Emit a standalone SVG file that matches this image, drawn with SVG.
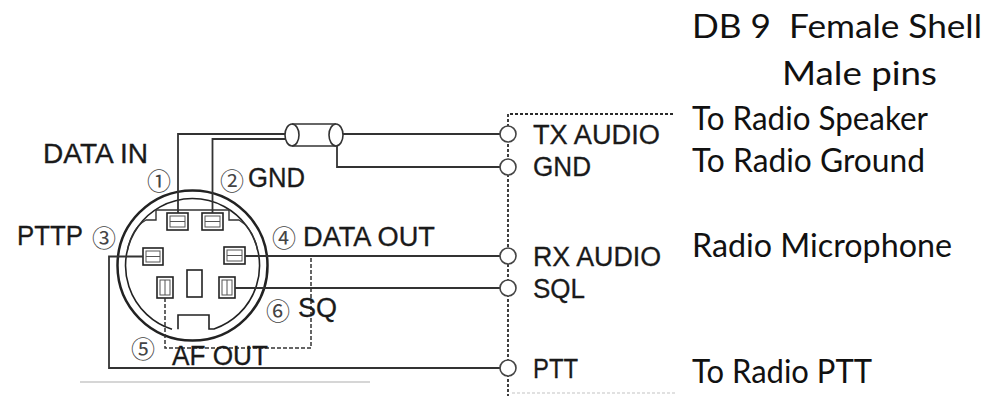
<svg xmlns="http://www.w3.org/2000/svg" width="991" height="396" viewBox="0 0 991 396">
<style>
.lbl{font-family:"Liberation Sans",Arial,sans-serif;font-size:27px;fill:#1a1a1a;stroke:#1a1a1a;stroke-width:0.3}
.num{font-family:"Noto Sans CJK JP","DejaVu Sans",sans-serif;font-size:24px;fill:#444;text-anchor:middle;dominant-baseline:central}
.note{font-family:Lato,"Open Sans",sans-serif;font-size:33px;fill:#111}
.w{fill:none;stroke:#333;stroke-width:1.8}
.dash{fill:none;stroke:#333;stroke-width:1.5;stroke-dasharray:4 2}
.term{fill:#fff;stroke:#444;stroke-width:1.6}
.pin{fill:#fff;stroke:#222;stroke-width:1.6}
.pinin{fill:none;stroke:#555;stroke-width:1}
</style>
<rect width="991" height="396" fill="#fff"/>

<g id="din-connector">
  <circle cx="192.5" cy="265.5" r="75" fill="none" stroke="#222" stroke-width="2.5"/>
  <path d="M172 329.3 A67 67 0 1 1 214 329 L209 329 L209 315 L178 315 L178 329.3" fill="none" stroke="#222" stroke-width="1.6"/>
  <path d="M127.5 250 Q132 228 146 220 H156 V210 H229 V220 H239 Q253 228 257.5 250" fill="none" stroke="#333" stroke-width="1.4"/>
  <g id="pin1"><rect class="pin" x="167" y="213" width="21" height="17"/><rect class="pinin" x="170" y="216" width="15" height="11"/><line class="pinin" x1="170" y1="221.5" x2="185" y2="221.5"/></g>
  <g id="pin2"><rect class="pin" x="202" y="213" width="21" height="17"/><rect class="pinin" x="205" y="216" width="15" height="11"/><line class="pinin" x1="205" y1="221.5" x2="220" y2="221.5"/></g>
  <g id="pin3"><rect class="pin" x="143" y="248" width="20" height="17"/><rect class="pinin" x="146" y="251" width="14" height="11"/><line class="pinin" x1="146" y1="256.5" x2="160" y2="256.5"/></g>
  <g id="pin4"><rect class="pin" x="224" y="247" width="21" height="17"/><rect class="pinin" x="227" y="250" width="15" height="11"/><line class="pinin" x1="227" y1="255.5" x2="242" y2="255.5"/></g>
  <g id="pin5"><rect class="pin" x="157" y="277" width="16" height="21"/><rect class="pinin" x="160" y="280" width="10" height="15"/><line class="pinin" x1="165" y1="280" x2="165" y2="295"/></g>
  <g id="pin-center"><rect class="pin" x="187" y="270" width="15" height="27"/></g>
  <g id="pin6"><rect class="pin" x="219" y="277" width="16" height="21"/><rect class="pinin" x="222" y="280" width="10" height="15"/><line class="pinin" x1="227" y1="280" x2="227" y2="295"/></g>
</g>

<g id="cable">
  <line x1="292" y1="124" x2="336" y2="124" stroke="#333" stroke-width="1.6"/>
  <line x1="292" y1="146" x2="336" y2="146" stroke="#333" stroke-width="1.6"/>
  <ellipse cx="292" cy="135" rx="7" ry="11" fill="none" stroke="#333" stroke-width="1.6"/>
  <ellipse cx="336" cy="135" rx="7" ry="11" fill="#fff" stroke="#333" stroke-width="1.6"/>
</g>

<g id="wires">
  <polyline class="w" points="178,213 178,134 285,134"/>
  <line class="w" x1="343" y1="134" x2="500" y2="134"/>
  <polyline class="w" points="212.5,213 212.5,139 285,139"/>
  <polyline class="w" points="337,146 337,167 500,167"/>
  <polyline class="w" points="143,256.5 109,256.5 109,368 500,368"/>
  <line class="w" x1="245" y1="256" x2="500" y2="256"/>
  <line class="w" x1="235" y1="288" x2="500" y2="288"/>
  <polyline class="dash" points="165,298 165,348 311,348 311,256"/>
  <line x1="80" y1="382" x2="370" y2="382" stroke="#c8c8c8" stroke-width="1.5"/>
  <polyline fill="none" stroke="#2a2a2a" stroke-width="1.8" stroke-dasharray="3 2" points="673,114 508,114 508,396"/>
  <line x1="512" y1="393" x2="676" y2="393" stroke="#d8d8d8" stroke-width="1.5" stroke-dasharray="3 2"/>
</g>

<g id="term-tx"><circle class="term" cx="508" cy="134" r="8"/><text class="lbl" x="533" y="144" textLength="127" lengthAdjust="spacingAndGlyphs">TX AUDIO</text></g>
<g id="term-gnd"><circle class="term" cx="508" cy="167" r="8"/><text class="lbl" x="533" y="176" textLength="58" lengthAdjust="spacingAndGlyphs">GND</text></g>
<g id="term-rx"><circle class="term" cx="508" cy="256" r="8"/><text class="lbl" x="533" y="266" textLength="128" lengthAdjust="spacingAndGlyphs">RX AUDIO</text></g>
<g id="term-sql"><circle class="term" cx="508" cy="288" r="8"/><text class="lbl" x="533" y="298" textLength="52" lengthAdjust="spacingAndGlyphs">SQL</text></g>
<g id="term-ptt"><circle class="term" cx="508" cy="368" r="8"/><text class="lbl" x="533" y="378" textLength="45" lengthAdjust="spacingAndGlyphs">PTT</text></g>

<g id="pin-labels">
  <text class="lbl" x="43" y="163" textLength="105" lengthAdjust="spacingAndGlyphs">DATA IN</text>
  <text class="num" x="159" y="179">①</text>
  <text class="num" x="232" y="179">②</text>
  <text class="lbl" x="248" y="187" textLength="57" lengthAdjust="spacingAndGlyphs">GND</text>
  <text class="lbl" x="17" y="245" textLength="66" lengthAdjust="spacingAndGlyphs">PTTP</text>
  <text class="num" x="104" y="236">③</text>
  <text class="num" x="284" y="236">④</text>
  <text class="lbl" x="303" y="246" textLength="132" lengthAdjust="spacingAndGlyphs">DATA OUT</text>
  <text class="num" x="278" y="309">⑥</text>
  <text class="lbl" x="298" y="317" textLength="39" lengthAdjust="spacingAndGlyphs">SQ</text>
  <text class="num" x="143" y="347">⑤</text>
  <text class="lbl" x="172" y="365" textLength="96" lengthAdjust="spacingAndGlyphs">AF OUT</text>
</g>

<g id="notes">
  <text class="note" x="692" y="38" textLength="290" lengthAdjust="spacingAndGlyphs" xml:space="preserve">DB 9  Female Shell</text>
  <text class="note" x="782" y="85" textLength="155" lengthAdjust="spacingAndGlyphs">Male pins</text>
  <text class="note" x="692" y="130" textLength="236" lengthAdjust="spacingAndGlyphs">To Radio Speaker</text>
  <text class="note" x="692" y="172" textLength="233" lengthAdjust="spacingAndGlyphs">To Radio Ground</text>
  <text class="note" x="692" y="257" textLength="260" lengthAdjust="spacingAndGlyphs">Radio Microphone</text>
  <text class="note" x="692" y="383" textLength="180" lengthAdjust="spacingAndGlyphs">To Radio PTT</text>
</g>
</svg>
